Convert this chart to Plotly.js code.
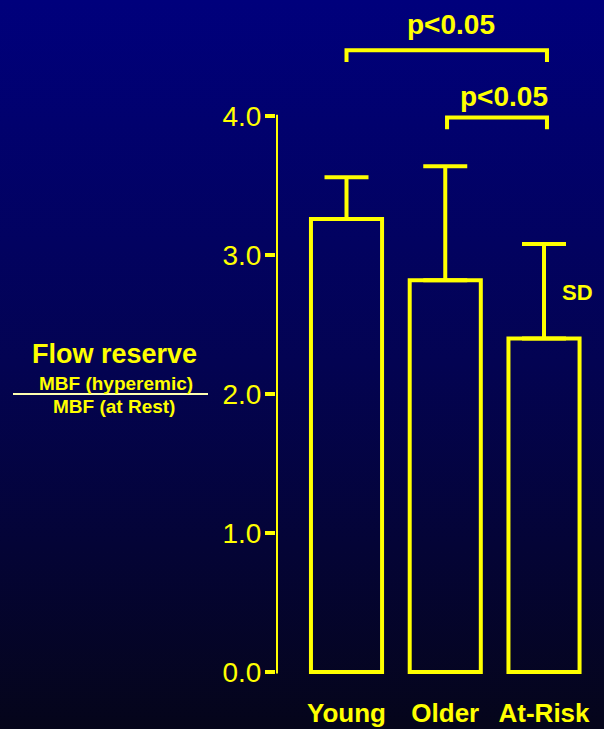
<!DOCTYPE html>
<html>
<head>
<meta charset="utf-8">
<script src="https://cdn.plot.ly/plotly-3.0.1.min.js"></script>
<style>
  html, body { margin:0; padding:0; }
  body { width:604px; height:729px; background: linear-gradient(to bottom, #00007c 0%, #030352 50%, #05051a 100%); }
  #chart { width:604px; height:729px; }
</style>
</head>
<body>
<div id="chart"></div>
<script>
const categories = ["Young", "Older", "At-Risk"];
const flowReserve = [3.26, 2.82, 2.40];
const sdValues = [0.30, 0.82, 0.68];
const yTickValues = [0, 1, 2, 3, 4];
const yTickLabels = ["0.0", "1.0", "2.0", "3.0", "4.0"];
const pLabel = "p<0.05";

const W = 604, H = 729;
const M = {l: 276, r: 4, t: 4.8, b: 50.05};
const PW = W - M.l - M.r, PH = H - M.t - M.b;
const px = x => (x - M.l) / PW;
const py = y => (H - M.b - y) / PH;
const YEL = "#ffff00";
const FONT = "Liberation Sans, Arial, sans-serif";
const xIdx = categories.map((c, i) => i);

const trace = {
  type: "bar",
  x: xIdx,
  y: flowReserve,
  width: 0.72,
  marker: {color: "rgba(0,0,0,0)", line: {color: YEL, width: 4}},
  error_y: {type: "data", symmetric: false, array: sdValues, arrayminus: sdValues.map(() => 0),
            color: YEL, thickness: 4, width: 22},
  cliponaxis: false,
  hoverinfo: "none"
};

const xMin = -0.714, xMax = 2.567;
const layout = {
  width: W, height: H,
  margin: M,
  paper_bgcolor: "rgba(0,0,0,0)",
  plot_bgcolor: "rgba(0,0,0,0)",
  showlegend: false,
  font: {family: FONT, color: YEL},
  xaxis: {
    range: [xMin, xMax], tickvals: xIdx, ticktext: categories,
    showgrid: false, zeroline: false, showline: false, ticks: "",
    tickfont: {size: 26, color: YEL, family: FONT, weight: "bold"}, ticklabelstandoff: 16
  },
  yaxis: {
    range: [-0.05, 4.8], tickvals: yTickValues, ticktext: yTickLabels,
    showgrid: false, zeroline: false, showline: false,
    ticks: "outside", ticklen: 10, tickwidth: 4, tickcolor: YEL,
    tickfont: {size: 28, color: YEL, family: FONT}, ticklabelstandoff: -2
  },
  shapes: [
    {type: "line", xref: "x", yref: "y", x0: xMin, x1: xMin, y0: -0.01, y1: 4.01, line: {color: YEL, width: 4}},
    {type: "path", xref: "x", yref: "y", path: "M 0,4.39 L 0,4.475 L 2.03,4.475 L 2.03,4.39", line: {color: YEL, width: 4}},
    {type: "path", xref: "x", yref: "y", path: "M 1.018,3.906 L 1.018,3.99 L 2.03,3.99 L 2.03,3.906", line: {color: YEL, width: 4}},
    {type: "line", xref: "paper", yref: "paper", x0: px(13), x1: px(208), y0: py(394), y1: py(394), line: {color: "#ffffb0", width: 2}}
  ],
  annotations: [
    {text: "Flow reserve", xref: "paper", yref: "paper", x: px(114), y: py(354), showarrow: false, xanchor: "center", yanchor: "middle", font: {size: 27, color: YEL, family: FONT, weight: "bold"}},
    {text: "MBF (hyperemic)", xref: "paper", yref: "paper", x: px(116), y: py(383), showarrow: false, xanchor: "center", yanchor: "middle", font: {size: 19, color: YEL, family: FONT, weight: "bold"}},
    {text: "MBF (at Rest)", xref: "paper", yref: "paper", x: px(114), y: py(406), showarrow: false, xanchor: "center", yanchor: "middle", font: {size: 19, color: YEL, family: FONT, weight: "bold"}},
    {text: "SD", xref: "paper", yref: "paper", x: px(577), y: py(292), showarrow: false, xanchor: "center", yanchor: "middle", font: {size: 22, color: YEL, family: FONT, weight: "bold"}},
    {text: pLabel, xref: "paper", yref: "paper", x: px(451), y: py(24), showarrow: false, xanchor: "center", yanchor: "middle", font: {size: 28, color: YEL, family: FONT, weight: "bold"}},
    {text: pLabel, xref: "paper", yref: "paper", x: px(504), y: py(96), showarrow: false, xanchor: "center", yanchor: "middle", font: {size: 28, color: YEL, family: FONT, weight: "bold"}}
  ]
};

Plotly.newPlot("chart", [trace], layout, {displayModeBar: false, staticPlot: true});
</script>
</body>
</html>
